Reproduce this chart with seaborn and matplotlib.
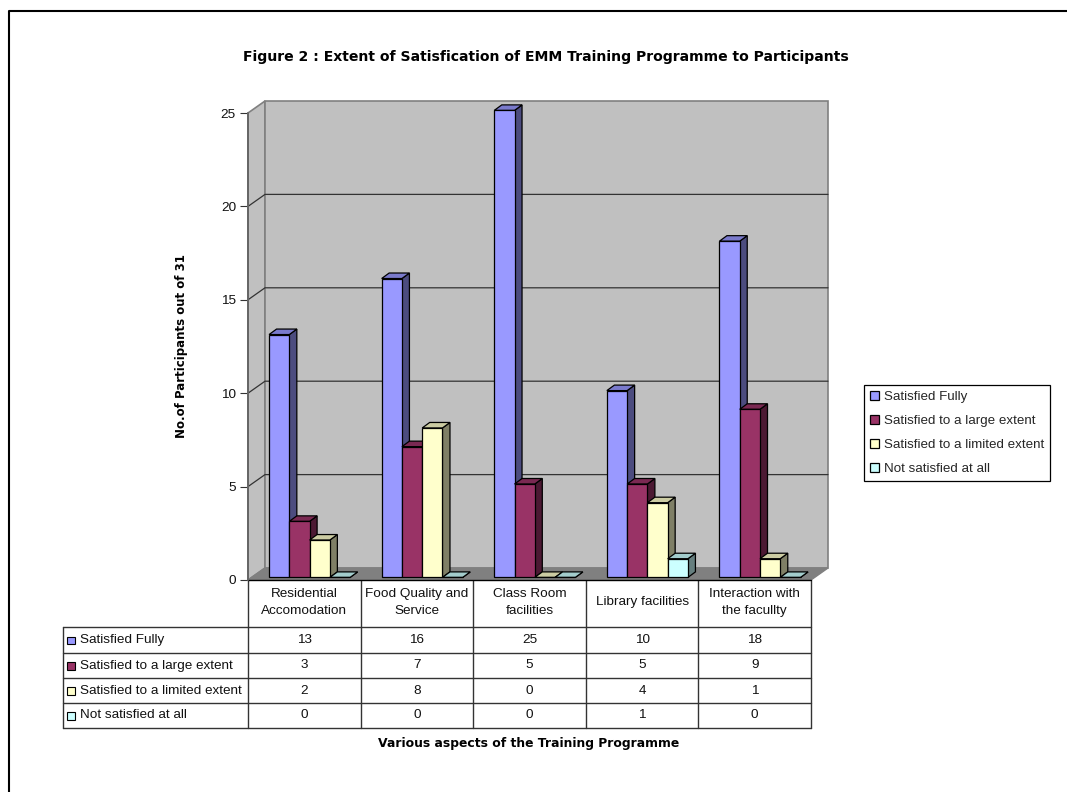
import numpy as np
import pandas as pd
import matplotlib.pyplot as plt
from matplotlib.patches import Polygon, Rectangle
import seaborn as sns

W, H = 1067, 792

aspects = ['Residential\nAccomodation', 'Food Quality and\nService', 'Class Room\nfacilities',
           'Library facilities', 'Interaction with\nthe facullty']
series = ['Satisfied Fully', 'Satisfied to a large extent',
          'Satisfied to a limited extent', 'Not satisfied at all']
fully = [13, 16, 25, 10, 18]
large = [3, 7, 5, 5, 9]
limited = [2, 8, 0, 4, 1]
not_at_all = [0, 0, 0, 1, 0]
yticks = [0, 5, 10, 15, 20, 25]

colors = ['#9999FF', '#993366', '#FFFFCC', '#CCFFFF']
tops = ['#7A7ACC', '#7A2952', '#CCCCA3', '#A3CCCC']
sides = ['#4C4C7F', '#4C1933', '#7F7F66', '#667F7F']

rows = [fully, large, limited, not_at_all]
df = pd.DataFrame({'aspect': np.repeat(aspects, 4),
                   'series': series * 5,
                   'n': [rows[s][a] for a in range(5) for s in range(4)]})

sns.set_theme(style='white')
plt.rcParams['font.family'] = ['Liberation Sans', 'DejaVu Sans']
FS = 9.7
# the original's bold text is stretched wide, DejaVu bold comes closest
BOLD = dict(family='DejaVu Sans', fontweight='bold', color='black', ha='center', va='center')

fig = plt.figure(figsize=(W / 100, H / 100), dpi=100)

# full figure overlay in pixels, for the frame and the data table
bg = fig.add_axes([0, 0, 1, 1])
bg.set_xlim(0, W)
bg.set_ylim(H, 0)
bg.axis('off')

# front plane of the 3D box
X0, X1, Y0, Y1 = 248, 811, 580, 113
ax = fig.add_axes([X0 / W, 1 - Y0 / H, (X1 - X0) / W, (Y0 - Y1) / H])
sns.barplot(data=df, x='aspect', y='n', hue='series', order=aspects, hue_order=series,
            palette=colors, width=0.72, gap=0, saturation=1, edgecolor='black',
            linewidth=0.9, ax=ax, legend=True)
ax.set_xlim(-0.5, 4.5)
ax.set_ylim(0, 25)
ax.patch.set_visible(False)
sns.despine(ax=ax, top=True, right=True, bottom=True, left=True)

DX = 5 / (X1 - X0)
DY = 25 / (Y0 - Y1)
xa, xb = -0.5, 4.5

# walls and floor, pushed back by 17x12 px
bx, by = 17 * DX, 12 * DY
wall = dict(edgecolor='#808080', linewidth=1.2, clip_on=False, zorder=0.5)
ax.add_patch(Polygon([(xa, 0), (xa, 25), (xa + bx, 25 + by), (xa + bx, by)], facecolor='#C0C0C0', **wall))
ax.add_patch(Polygon([(xa + bx, by), (xa + bx, 25 + by), (xb + bx, 25 + by), (xb + bx, by)],
                     facecolor='#C0C0C0', **wall))
ax.add_patch(Polygon([(xa, 0), (xb, 0), (xb + bx, by), (xa + bx, by)], facecolor='#808080',
                     edgecolor='#808080', linewidth=1, clip_on=False, zorder=0.6))
for v in yticks[1:-1]:
    ax.plot([xa, xa + bx, xb + bx], [v, v + by, v + by], color='#333333', lw=0.9, clip_on=False, zorder=0.7)
ax.plot([xa, xb], [0, 0], color='black', lw=1, clip_on=False, zorder=1)
ax.plot([xa, xa], [0, 25], color='#666666', lw=1.4, clip_on=False, zorder=1)

# shift bars into the box and give them depth
ox, oy = 5.3 * DX, 2.6 * DY
sx, sy = 7.5 * DX, 5.5 * DY
items = []
for s, cont in enumerate(ax.containers):
    for a, bar in enumerate(cont):
        items.append((bar.get_x(), s, bar))
items.sort(key=lambda t: t[0])
for k, (_, s, bar) in enumerate(items):
    z = 2 + k * 0.1
    x = bar.get_x() + ox
    w = bar.get_width()
    h = bar.get_height()
    bar.set_x(x)
    bar.set_y(oy)
    bar.set_zorder(z + 0.02)
    bar.set_clip_on(False)
    edge = dict(edgecolor='black', linewidth=0.9, clip_on=False, zorder=z)
    ax.add_patch(Polygon([(x + w, oy), (x + w + sx, oy + sy), (x + w + sx, oy + h + sy), (x + w, oy + h)],
                         facecolor=sides[s], **edge))
    ax.add_patch(Polygon([(x, oy + h), (x + sx, oy + h + sy), (x + w + sx, oy + h + sy), (x + w, oy + h)],
                         facecolor=tops[s], **edge))

ax.set_xticks([])
ax.set_yticks(yticks)
ax.tick_params(axis='y', left=True, length=5.8, width=0.8, color='#333333', labelsize=FS, pad=2.8,
               labelcolor='#111111')
ax.set_xlabel('')
ax.set_ylabel('')

# legend
handles, labels = ax.get_legend_handles_labels()
ax.get_legend().remove()
leg = fig.legend(handles, labels, loc='upper left', bbox_to_anchor=(864 / W, 1 - 385 / H),
                 borderaxespad=0, fontsize=9.6, frameon=True, fancybox=False, edgecolor='black',
                 framealpha=1, handlelength=0.62, handleheight=0.62, handletextpad=0.38,
                 labelspacing=0.89, borderpad=0.47)
leg.get_frame().set_linewidth(0.9)

# data table
col_x = np.linspace(X0, X1, 6)
row_y = [627, 653, 678, 703, 728]
line = dict(color='#333333', lw=1)
for y in row_y:
    bg.plot([63, X1], [y, y], **line)
bg.plot([63, 63], [row_y[0], row_y[-1]], **line)
for x in col_x:
    bg.plot([x, x], [Y0, row_y[-1]], **line)
for a, label in enumerate(aspects):
    cx = (col_x[a] + col_x[a + 1]) / 2
    bg.text(cx, 602.5, label, ha='center', va='center', fontsize=FS, color='#111111', linespacing=1.65)
for s, name in enumerate(series):
    top, bot = row_y[s], row_y[s + 1]
    mid = (top + bot) / 2
    bg.add_patch(Rectangle((67, mid - 3.5), 7.5, 7.5, facecolor=colors[s], edgecolor='black', lw=0.8))
    bg.text(80, mid, name, ha='left', va='center', fontsize=FS, color='#111111')
    for a in range(5):
        cx = (col_x[a] + col_x[a + 1]) / 2
        bg.text(cx, mid, str(rows[s][a]), ha='center', va='center', fontsize=FS, color='#111111')

bg.text(546, 57, 'Figure 2 : Extent of Satisfication of EMM Training Programme to Participants',
        fontsize=10.1, **BOLD)
bg.text(529, 744, 'Various aspects of the Training Programme', fontsize=8.95, **BOLD)
bg.text(182, 346, 'No.of Participants out of 31', rotation=90, fontsize=8.5, **BOLD)

# outer frame
bg.plot([9, 9, W], [H, 11, 11], color='black', lw=1.5)

fig.savefig('out.png', dpi=100)
